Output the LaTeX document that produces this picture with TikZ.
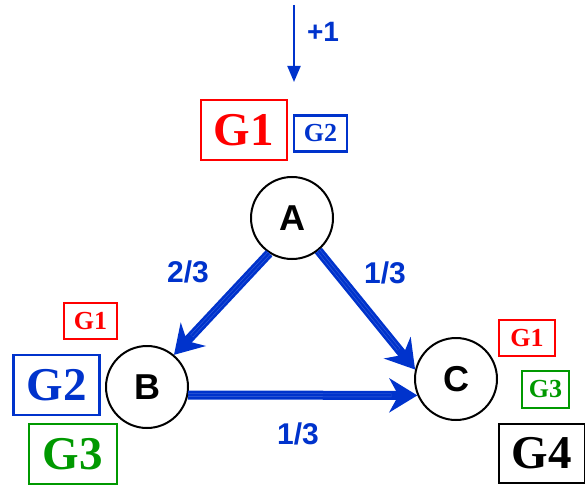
\documentclass[tikz,border=0pt]{standalone}
\usepackage{fontspec}
\setmainfont{Liberation Serif}
\setsansfont{Liberation Sans}
\usetikzlibrary{arrows.meta}
\usetikzlibrary{positioning}
\definecolor{gblue}{RGB}{0,51,204}
\definecolor{gred}{RGB}{255,0,0}
\definecolor{ggreen}{RGB}{0,153,0}
\newcommand{\bigG}{\fontsize{47}{49}\bfseries\selectfont}
\newcommand{\smallG}{\fontsize{26}{28}\bfseries\selectfont}
\newcommand{\lab}{\fontsize{30}{32}\sffamily\bfseries\selectfont}
\tikzset{
	vertex/.style={circle, draw, line width=2pt, minimum size=82pt, inner sep=0pt,
		font=\fontsize{36}{38}\sffamily\bfseries\selectfont},
	gbox/.style={draw, line width=2.5pt, inner sep=0pt},
	gbig/.style={gbox, minimum width=86pt, minimum height=60pt, font=\bigG},
	gsmall/.style={gbox, minimum width=53pt, minimum height=36pt, font=\smallG},
	flow/.style={gblue, line width=9pt, -{Stealth[length=28pt,width=34pt]},
		postaction={draw=gblue!75!white, line width=3.5pt, -, shorten >=26pt},
		postaction={draw=gblue, line width=2.5pt, -, shorten >=26pt}}
}

\begin{document}
\begin{tikzpicture}[x=1pt,y=-1pt]
	\useasboundingbox (0,0) rectangle (585,486);
	\node[vertex] (A) at (292,218){A};%A
	\node[vertex] (B) at (147,387){B};%B
	\node[vertex] (C) at (456,379){C};%C
	% inflow
	\coordinate (in) at (294,5);
	\coordinate (inend) at (294,82);
	\draw[gblue, line width=2pt, -{Triangle[length=16pt,width=13pt]}] (in) -- (inend);
	\node[text=gblue, font=\fontsize{28}{30}\sffamily\bfseries\selectfont] (plus) at (323,32){+1};
	% groups at A
	\node[gbig, gred] (a1) at (244,130){G1};
	\node[gsmall, gblue] (a2) at (320.5,133.5){G2};
	% groups at B
	\node[gsmall, gred] (b1) at (90.5,321){G1};
	\node[gbig, gblue] (b2) at (56.5,385){G2};
	\node[gbig, ggreen, minimum width=88pt] (b3) at (73,454){G3};
	% groups at C
	\node[gsmall, gred, minimum width=56pt] (c1) at (527,338){G1};
	\node[gsmall, ggreen, minimum width=47pt, minimum height=37pt] (c3) at (545.5,389.5){G3};
	\node[gbig, black, minimum height=59pt] (c4) at (542,453.5){G4};
	% flows
	\draw[flow] (A.237) -- (B.50);
	\draw[flow] (A.-51) -- (C.167);
	\draw[flow] (B.-11) -- (C.-157);
	\node[text=gblue, font=\lab] (ab) at (188,272){2/3};
	\node[text=gblue, font=\lab] (ac) at (385,273){1/3};
	\node[text=gblue, font=\lab] (bc) at (298,434){1/3};
\end{tikzpicture}
\end{document}
